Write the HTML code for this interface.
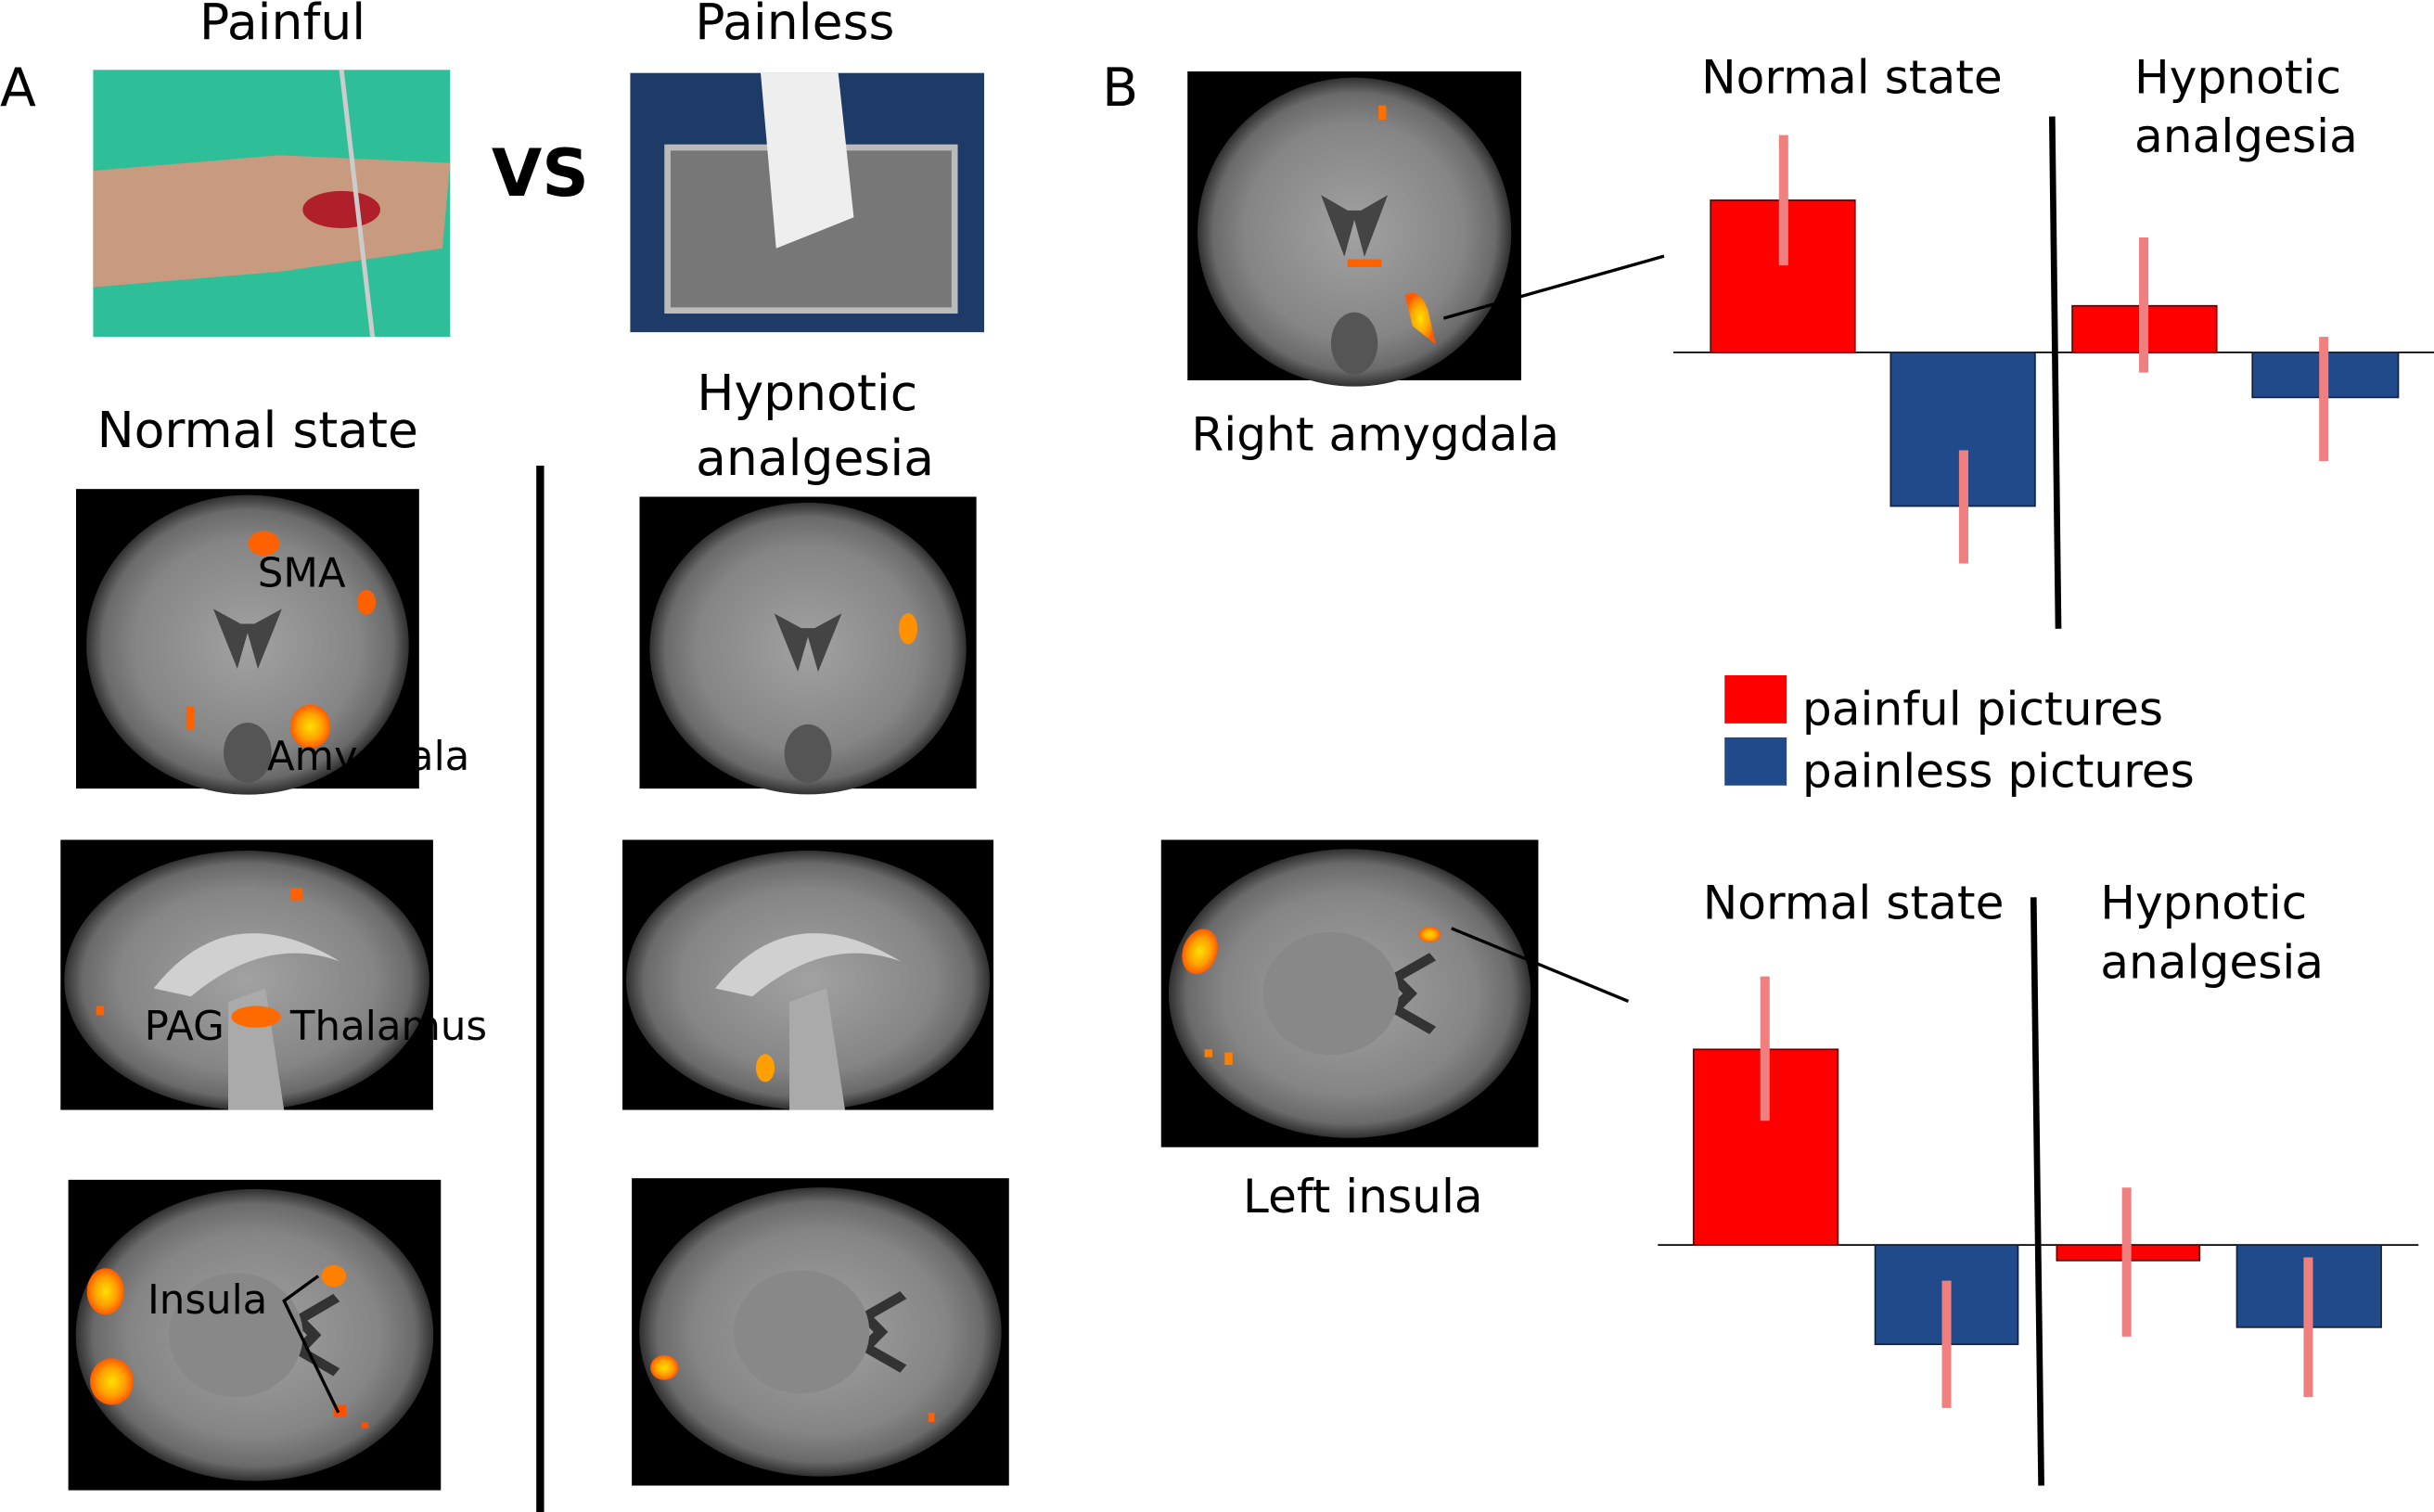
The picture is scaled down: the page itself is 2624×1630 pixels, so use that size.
<!DOCTYPE html>
<html><head><meta charset="utf-8"><style>
html,body{margin:0;padding:0;background:#fff;}
svg{display:block;}
text{font-family:"DejaVu Sans","Liberation Sans",sans-serif;fill:#000;}
</style></head><body>
<svg width="2624" height="1630" viewBox="0 0 1568 974" xmlns="http://www.w3.org/2000/svg">
<defs>
<radialGradient id="br" cx="50%" cy="50%" r="50%">
<stop offset="0" stop-color="#a2a2a2"/><stop offset="0.7" stop-color="#858585"/><stop offset="0.9" stop-color="#6a6a6a"/><stop offset="1" stop-color="#303030"/>
</radialGradient>
<radialGradient id="hot" cx="50%" cy="50%" r="50%">
<stop offset="0" stop-color="#ffe000"/><stop offset="0.6" stop-color="#ffa000"/><stop offset="1" stop-color="#ff5a00"/>
</radialGradient>
<g id="cor">
<rect x="0" y="0" width="100" height="100" fill="#000"/>
<ellipse cx="50" cy="52" rx="47" ry="50" fill="url(#br)"/>
<path d="M40 40 L47 60 L50 48 L53 60 L60 40 L52 45 L48 45Z" fill="#444"/>
<ellipse cx="50" cy="88" rx="7" ry="10" fill="#555"/>
</g>
<g id="sag">
<rect x="0" y="0" width="100" height="100" fill="#000"/>
<ellipse cx="50" cy="52" rx="49" ry="48" fill="url(#br)"/>
<path d="M25 55 Q45 20 75 45 Q55 35 35 58Z" fill="#d0d0d0"/>
<path d="M45 60 L55 55 L60 100 L45 100Z" fill="#aaa"/>
</g>
<g id="axi">
<rect x="0" y="0" width="100" height="100" fill="#000"/>
<ellipse cx="50" cy="50" rx="48" ry="47" fill="url(#br)"/>
<path d="M62 45 L72 38 M62 55 L72 62 M62 45 L66 50 L62 55" stroke="#333" stroke-width="3" fill="none"/>
<ellipse cx="45" cy="50" rx="18" ry="20" fill="#888"/>
</g>
</defs>

<text x="0" y="68" font-size="34">A</text>
<text x="182" y="25" font-size="32" text-anchor="middle">Painful</text>
<text x="512" y="25" font-size="32" text-anchor="middle">Painless</text>
<rect x="60" y="45" width="230" height="172" fill="#2fbf98"/>
<path d="M60 110 L180 100 L290 105 L285 160 L180 175 L60 185Z" fill="#c89a80"/>
<ellipse cx="220" cy="135" rx="25" ry="12" fill="#b0202a"/>
<line x1="220" y1="45" x2="240" y2="217" stroke="#ccc" stroke-width="3"/>
<rect x="406" y="47" width="228" height="167" fill="#1e3a66"/>
<rect x="430" y="95" width="185" height="105" fill="#777" stroke="#bbb" stroke-width="4"/>
<path d="M490 47 L540 47 L550 140 L500 160Z" fill="#eee"/>
<text x="348" y="126" font-size="42" font-weight="bold" text-anchor="middle">VS</text>

<text x="166" y="288" font-size="32" text-anchor="middle">Normal state</text>
<text x="520" y="264" font-size="32" text-anchor="middle">Hypnotic</text>
<text x="525" y="306" font-size="32" text-anchor="middle">analgesia</text>
<line x1="348" y1="300" x2="348" y2="974" stroke="#000" stroke-width="5"/>

<use href="#cor" transform="translate(49,315) scale(2.21,1.93)"/>
<use href="#sag" transform="translate(39,541) scale(2.4,1.74)"/>
<use href="#axi" transform="translate(44,760) scale(2.4,2.0)"/>
<use href="#cor" transform="translate(412,320) scale(2.17,1.88)"/>
<use href="#sag" transform="translate(401,541) scale(2.39,1.74)"/>
<use href="#axi" transform="translate(407,759) scale(2.43,1.98)"/>

<ellipse cx="200" cy="468" rx="13" ry="14" fill="url(#hot)"/>
<ellipse cx="170" cy="350" rx="10" ry="8" fill="#ff6000"/>
<ellipse cx="236" cy="388" rx="6" ry="8" fill="#ff6000"/>
<rect x="120" y="455" width="5" height="15" fill="#ff6000"/>
<ellipse cx="165" cy="655" rx="16" ry="7" fill="#ff6a00"/>
<rect x="187" y="572" width="8" height="8" fill="#ff6000"/>
<rect x="62" y="648" width="5" height="6" fill="#ff6000"/>
<ellipse cx="68" cy="832" rx="12" ry="15" fill="url(#hot)"/>
<ellipse cx="72" cy="890" rx="14" ry="15" fill="url(#hot)"/>
<ellipse cx="215" cy="822" rx="8" ry="7" fill="#ff8000"/>
<rect x="215" y="905" width="8" height="8" fill="#ff5000"/>
<rect x="233" y="916" width="4" height="4" fill="#ff5000"/>
<ellipse cx="585" cy="405" rx="6" ry="10" fill="#ff9000"/>
<ellipse cx="493" cy="688" rx="6" ry="9" fill="#ffa000"/>
<ellipse cx="428" cy="881" rx="9" ry="8" fill="url(#hot)"/>
<rect x="598" y="910" width="4" height="6" fill="#ff6000"/>

<g font-size="26" font-family="Liberation Sans,sans-serif">
<text x="166" y="378">SMA</text>
<text x="172" y="496">Amygdala</text>
<text x="93" y="670">PAG</text>
<text x="187" y="670">Thalamus</text>
<text x="95" y="846">Insula</text>
</g>
<path d="M205 822 L183 838 L218 910" stroke="#000" stroke-width="2" fill="none"/>

<text x="710" y="68" font-size="34">B</text>
<use href="#cor" transform="translate(765,46) scale(2.15,1.99)"/>
<path d="M905 190 Q915 185 920 200 L925 222 L910 210Z" fill="url(#hot)"/>
<rect x="888" y="68" width="5" height="9" fill="#ff7000"/>
<rect x="868" y="167" width="22" height="5" fill="#ff6000"/>
<line x1="930" y1="205" x2="1072" y2="165" stroke="#000" stroke-width="2"/>
<text x="886" y="290" font-size="30" text-anchor="middle">Right amygdala</text>

<text x="1193" y="60" font-size="30" text-anchor="middle">Normal state</text>
<text x="1375" y="60" font-size="30">Hypnotic</text>
<text x="1375" y="98" font-size="30">analgesia</text>
<line x1="1078" y1="227" x2="1568" y2="227" stroke="#000" stroke-width="1"/>
<rect x="1102" y="129" width="93" height="98" fill="#f00" stroke="#600" stroke-width="1"/>
<rect x="1218" y="227" width="93" height="99" fill="#204a8a" stroke="#102040" stroke-width="1"/>
<rect x="1335" y="197" width="93" height="30" fill="#f00" stroke="#600" stroke-width="1"/>
<rect x="1451" y="227" width="94" height="29" fill="#204a8a" stroke="#102040" stroke-width="1"/>
<g stroke="#f08080" stroke-width="6">
<line x1="1149" y1="87" x2="1149" y2="171"/>
<line x1="1265" y1="290" x2="1265" y2="363"/>
<line x1="1381" y1="153" x2="1381" y2="240"/>
<line x1="1497" y1="217" x2="1497" y2="297"/>
</g>
<line x1="1322" y1="75" x2="1326" y2="405" stroke="#000" stroke-width="4"/>

<rect x="1111" y="435" width="40" height="31" fill="#f00"/>
<rect x="1111" y="475" width="40" height="31" fill="#204a8a"/>
<text x="1161" y="467" font-size="30">painful pictures</text>
<text x="1161" y="507" font-size="30">painless pictures</text>

<use href="#axi" transform="translate(748,541) scale(2.43,1.98)"/>
<ellipse cx="773" cy="613" rx="11" ry="15" fill="url(#hot)" transform="rotate(20 773 613)"/>
<ellipse cx="921" cy="602" rx="7" ry="5" fill="url(#hot)"/>
<rect x="776" y="676" width="5" height="5" fill="#ff8000"/>
<rect x="789" y="678" width="5" height="8" fill="#ff8000"/>
<line x1="935" y1="598" x2="1049" y2="645" stroke="#000" stroke-width="2"/>
<text x="878" y="781" font-size="30" text-anchor="middle">Left insula</text>

<text x="1194" y="592" font-size="30" text-anchor="middle">Normal state</text>
<text x="1353" y="592" font-size="30">Hypnotic</text>
<text x="1353" y="630" font-size="30">analgesia</text>
<line x1="1068" y1="802" x2="1558" y2="802" stroke="#000" stroke-width="1"/>
<rect x="1091" y="676" width="93" height="126" fill="#f00" stroke="#600" stroke-width="1"/>
<rect x="1208" y="802" width="92" height="64" fill="#204a8a" stroke="#102040" stroke-width="1"/>
<rect x="1325" y="802" width="92" height="10" fill="#f00" stroke="#600" stroke-width="1"/>
<rect x="1441" y="802" width="93" height="53" fill="#204a8a" stroke="#102040" stroke-width="1"/>
<g stroke="#f08080" stroke-width="6">
<line x1="1137" y1="629" x2="1137" y2="722"/>
<line x1="1254" y1="825" x2="1254" y2="907"/>
<line x1="1370" y1="765" x2="1370" y2="861"/>
<line x1="1487" y1="810" x2="1487" y2="900"/>
</g>
<line x1="1310" y1="578" x2="1315" y2="957" stroke="#000" stroke-width="4"/>
</svg>
</body></html>
